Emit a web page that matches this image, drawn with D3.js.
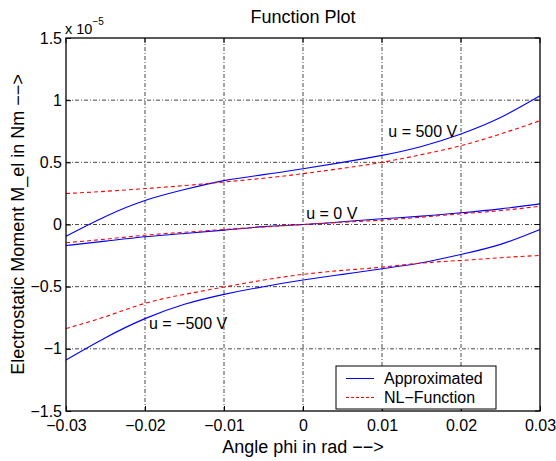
<!DOCTYPE html>
<html>
<head>
<meta charset="utf-8">
<script src="https://cdn.jsdelivr.net/npm/d3@7"></script>
<style>
  body { margin: 0; background: #fff; }
  svg { font-family: "Liberation Sans", Arial, Helvetica, sans-serif; }
</style>
</head>
<body>
<div id="chart"></div>
<script>
// angle phi in rad
const phi = [-0.03, -0.025, -0.02, -0.015, -0.01, -0.005, 0, 0.005, 0.01, 0.015, 0.02, 0.025, 0.03];

// moment values in units of 1e-5 Nm
const approx500  = [-0.094, 0.065, 0.193, 0.281, 0.353, 0.401, 0.449, 0.500, 0.556, 0.628, 0.728, 0.860, 1.035];
const nl500      = [0.249, 0.267, 0.289, 0.313, 0.342, 0.372, 0.409, 0.452, 0.500, 0.562, 0.634, 0.728, 0.835];
const approx0    = [-0.169, -0.134, -0.099, -0.072, -0.045, -0.017, 0, 0.022, 0.046, 0.067, 0.094, 0.126, 0.166];
const nl0        = [-0.147, -0.118, -0.086, -0.062, -0.040, -0.020, 0, 0.018, 0.035, 0.059, 0.086, 0.112, 0.147];
const approxM500 = [-1.089, -0.910, -0.757, -0.642, -0.562, -0.500, -0.447, -0.401, -0.356, -0.308, -0.241, -0.160, -0.040];
const nlM500     = [-0.837, -0.741, -0.634, -0.562, -0.503, -0.447, -0.401, -0.369, -0.343, -0.310, -0.289, -0.267, -0.249];

const xTicks = [-0.03, -0.02, -0.01, 0, 0.01, 0.02, 0.03];
const yTicks = [-1.5, -1, -0.5, 0, 0.5, 1, 1.5];

const seriesLabels = [
  { text: "u = 500 V", x: 0.0108, y: 0.70 },
  { text: "u = 0 V", x: 0.0004, y: 0.048 },
  { text: "u = \u2212500 V", x: -0.0195, y: -0.843 }
];

const legendItems = ["Approximated", "NL\u2212Function"];

const W = 556, H = 461;
const margin = { top: 38, right: 16, bottom: 50, left: 66 };
const width = W - margin.left - margin.right;
const height = H - margin.top - margin.bottom;

const svg = d3.select("#chart").append("svg")
  .attr("width", W)
  .attr("height", H);

const g = svg.append("g")
  .attr("transform", `translate(${margin.left},${margin.top})`);

const x = d3.scaleLinear().domain([-0.03, 0.03]).range([0, width]);
const y = d3.scaleLinear().domain([-1.5, 1.5]).range([height, 0]);

const fmt = v => (v === 0 ? "0" : String(v).replace("-", "\u2212"));

// grid
const gridStyle = sel => sel
  .attr("stroke", "#333")
  .attr("stroke-width", 0.9)
  .attr("stroke-dasharray", "4,2,1,2");

g.append("g").selectAll("line")
  .data(xTicks.slice(1, -1))
  .join("line")
  .attr("x1", d => x(d)).attr("x2", d => x(d))
  .attr("y1", 0).attr("y2", height)
  .call(gridStyle);

g.append("g").selectAll("line")
  .data(yTicks.slice(1, -1))
  .join("line")
  .attr("x1", 0).attr("x2", width)
  .attr("y1", d => y(d)).attr("y2", d => y(d))
  .call(gridStyle);

// axes (ticks inward, matlab style)
const xAxis = g.append("g")
  .attr("transform", `translate(0,${height})`)
  .call(d3.axisBottom(x).tickValues(xTicks).tickFormat(fmt).tickSizeInner(-5).tickSizeOuter(0).tickPadding(9));
const yAxis = g.append("g")
  .call(d3.axisLeft(y).tickValues(yTicks).tickFormat(fmt).tickSizeInner(-5).tickSizeOuter(0).tickPadding(4));

[xAxis, yAxis].forEach(a => {
  a.select(".domain").remove();
  a.selectAll("line").attr("stroke", "#000");
  a.selectAll("text").attr("font-size", 16).attr("fill", "#000")
    .attr("font-family", "Liberation Sans, Arial, sans-serif");
});

// top / right ticks
g.append("g").selectAll("line").data(xTicks).join("line")
  .attr("x1", d => x(d)).attr("x2", d => x(d)).attr("y1", 0).attr("y2", 5).attr("stroke", "#000");
g.append("g").selectAll("line").data(yTicks).join("line")
  .attr("x1", width).attr("x2", width - 5).attr("y1", d => y(d)).attr("y2", d => y(d)).attr("stroke", "#000");

// curves
const line = d3.line()
  .x((d, i) => x(phi[i]))
  .y(d => y(d))
  .curve(d3.curveNatural);

const plotArea = g.append("g");
[approx500, approx0, approxM500].forEach(s => {
  plotArea.append("path").datum(s)
    .attr("d", line).attr("fill", "none")
    .attr("stroke", "#0000ff").attr("stroke-width", 1.1);
});
[nl500, nl0, nlM500].forEach(s => {
  plotArea.append("path").datum(s)
    .attr("d", line).attr("fill", "none")
    .attr("stroke", "#ff0000").attr("stroke-width", 1.1)
    .attr("stroke-dasharray", "4,3");
});

// frame
g.append("rect")
  .attr("width", width).attr("height", height)
  .attr("fill", "none").attr("stroke", "#000").attr("stroke-width", 1.3);

// series annotations
g.append("g").selectAll("text")
  .data(seriesLabels)
  .join("text")
  .attr("x", d => x(d.x)).attr("y", d => y(d.y))
  .attr("font-size", 16)
  .text(d => d.text);

// title, axis labels, exponent
svg.append("text")
  .attr("x", margin.left + width / 2).attr("y", 23)
  .attr("text-anchor", "middle").attr("font-size", 18)
  .text("Function Plot");

svg.append("text")
  .attr("x", margin.left + width / 2).attr("y", 453)
  .attr("text-anchor", "middle").attr("font-size", 18)
  .text("Angle phi in rad \u2212\u2212>");

svg.append("text")
  .attr("transform", `translate(24,${margin.top + height / 2}) rotate(-90)`)
  .attr("text-anchor", "middle").attr("font-size", 18)
  .text("Electrostatic Moment M_el in Nm \u2212\u2212>");

const expo = svg.append("text")
  .attr("x", 65).attr("y", 34).attr("font-size", 14.5);
expo.append("tspan").text("x 10");
expo.append("tspan").attr("dy", -9).attr("font-size", 10).text("\u22125");

// legend
const lg = g.append("g").attr("transform", `translate(${336 - margin.left},${366 - margin.top})`);
lg.append("rect").attr("width", 160).attr("height", 43)
  .attr("fill", "#fff").attr("stroke", "#000").attr("stroke-width", 1);
const legendStyles = [
  { color: "#0000ff", dash: null },
  { color: "#ff0000", dash: "3,2" }
];
legendItems.forEach((name, i) => {
  const yy = 12.5 + i * 19;
  lg.append("line").attr("x1", 10).attr("x2", 38).attr("y1", yy).attr("y2", yy)
    .attr("stroke", legendStyles[i].color).attr("stroke-width", 1)
    .attr("stroke-dasharray", legendStyles[i].dash);
  lg.append("text").attr("x", 48).attr("y", yy + 5.5)
    .attr("font-size", 16).text(name);
});
</script>
</body>
</html>
